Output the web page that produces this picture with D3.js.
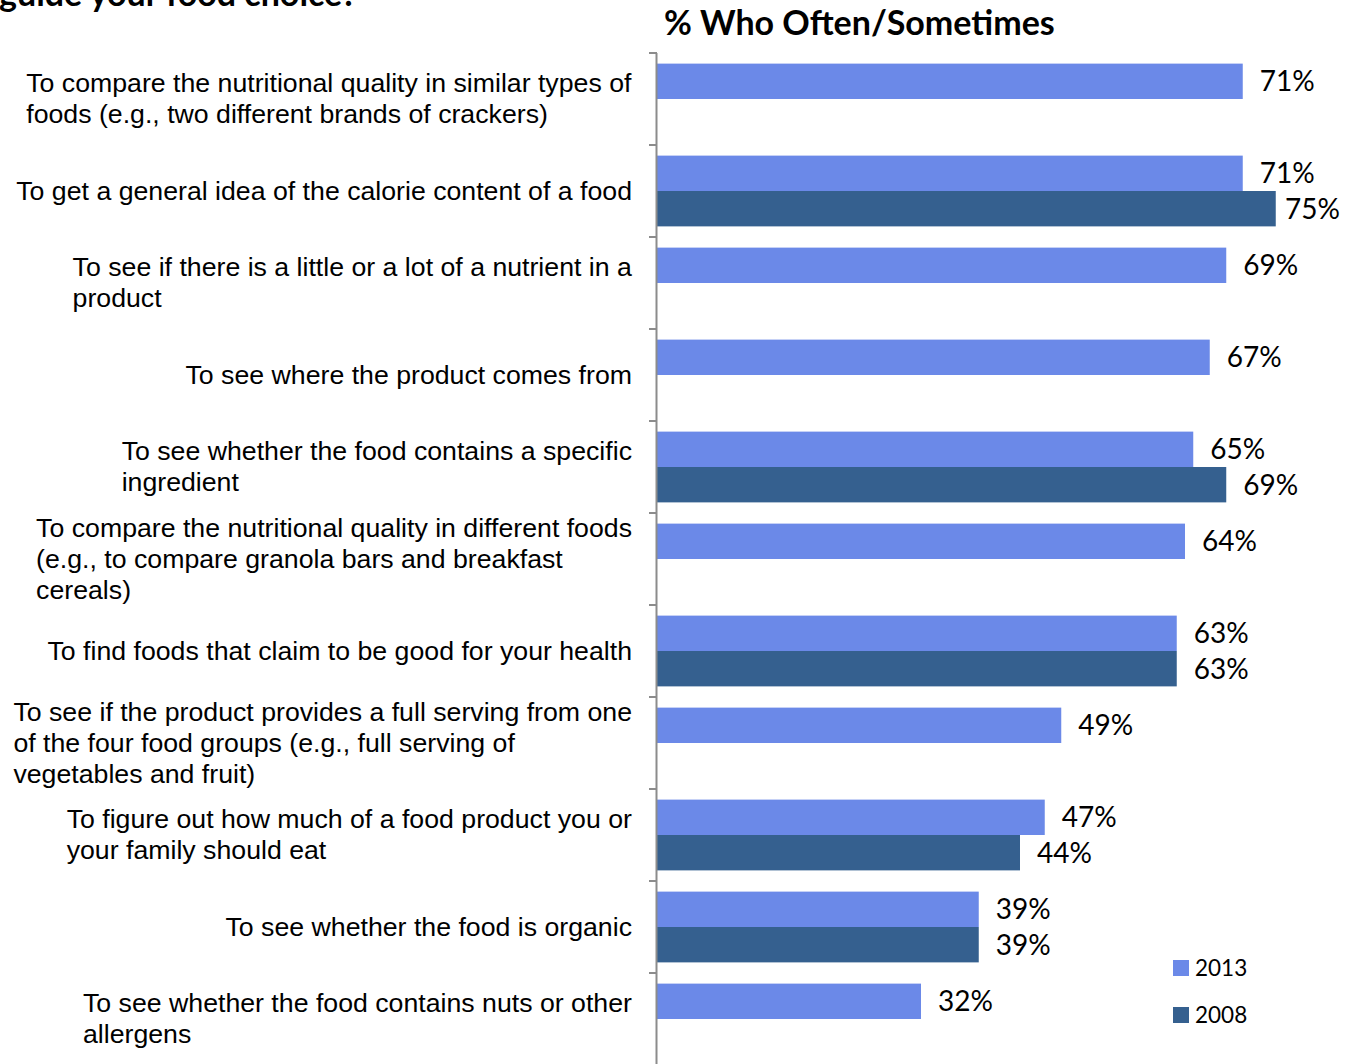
<!DOCTYPE html>
<html>
<head>
<meta charset="utf-8">
<script src="https://cdn.jsdelivr.net/npm/d3@7"></script>
<style>
  body { margin: 0; background: #fff; }
  svg { display: block; }
</style>
</head>
<body>
<div id="chart"></div>
<script>
// categories, one line array per label (wrapped as in the original)
var categories = [
  ["To compare the nutritional quality in similar types of", "foods (e.g., two different brands of crackers)"],
  ["To get a general idea of the calorie content of a food"],
  ["To see if there is a little or a lot of a nutrient in a", "product"],
  ["To see where the product comes from"],
  ["To see whether the food contains a specific", "ingredient"],
  ["To compare the nutritional quality in different foods", "(e.g., to compare granola bars and breakfast", "cereals)"],
  ["To find foods that claim to be good for your health"],
  ["To see if the product provides a full serving from one", "of the four food groups (e.g., full serving of", "vegetables and fruit)"],
  ["To figure out how much of a food product you or", "your family should eat"],
  ["To see whether the food is organic"],
  ["To see whether the food contains nuts or other", "allergens"]
];
var values2013 = [71, 71, 69, 67, 65, 64, 63, 49, 47, 39, 32];
var values2008 = [null, 75, null, null, 69, null, 63, null, 44, 39, null];
var seriesNames = ["2013", "2008"];
var seriesColors = ["#6b89e8", "#35608f"];

var width = 1356, height = 1064;
var svg = d3.select("#chart").append("svg")
    .attr("width", width)
    .attr("height", height);

var x0 = 657;
var x = d3.scaleLinear().domain([0, 100]).range([x0, x0 + 825]);

var y = d3.scaleBand()
    .domain(d3.range(categories.length))
    .range([53, 53 + 92 * categories.length])
    .paddingInner(0).paddingOuter(0);

var ySub = d3.scaleBand()
    .domain([0, 1])
    .range([0, y.bandwidth()])
    .paddingInner(0)
    .paddingOuter(0.3);

// cut-off question title at top
svg.append("text")
    .attr("x", -1)
    .attr("y", 6)
    .attr("font-family", "Lato, sans-serif")
    .attr("font-weight", "bold")
    .attr("font-size", "34px")
    .text("guide your food choice?");

svg.append("text")
    .attr("x", 664)
    .attr("y", 35)
    .attr("font-family", "Lato, sans-serif")
    .attr("font-weight", "bold")
    .attr("font-size", "34px")
    .text("% Who Often/Sometimes");

// bars
var rows = [];
categories.forEach(function(c, i) {
  rows.push({cat: i, s: 0, v: values2013[i]});
  if (values2008[i] != null) rows.push({cat: i, s: 1, v: values2008[i]});
});

svg.append("g").selectAll("rect")
  .data(rows)
  .enter().append("rect")
    .attr("x", x(0))
    .attr("y", function(d) { return y(d.cat) + ySub(d.s); })
    .attr("width", function(d) { return x(d.v) - x(0); })
    .attr("height", ySub.bandwidth())
    .attr("fill", function(d) { return seriesColors[d.s]; });

// value labels, kept inside the plot's right edge
var rightEdge = 1340;
svg.append("g").selectAll("text")
  .data(rows)
  .enter().append("text")
    .attr("y", function(d) { return y(d.cat) + ySub(d.s) + ySub.bandwidth() / 2; })
    .attr("dy", "0.36em")
    .attr("font-family", "Lato, sans-serif")
    .attr("font-size", "28px")
    .attr("fill", "#000")
    .text(function(d) { return d.v + "%"; })
    .attr("x", function(d) {
      var w = this.getComputedTextLength();
      return Math.min(x(d.v) + 17, rightEdge - w);
    });

// axis line and ticks
var axis = svg.append("g").attr("stroke", "#8c8c8c").attr("stroke-width", 2);
axis.append("line")
    .attr("x1", x(0) - 0.5).attr("x2", x(0) - 0.5)
    .attr("y1", y(0)).attr("y2", height);
axis.selectAll("line.tick")
  .data(d3.range(categories.length + 1))
  .enter().append("line")
    .attr("class", "tick")
    .attr("x1", x(0) - 8).attr("x2", x(0))
    .attr("y1", function(d) { return y(0) + d * y.step(); })
    .attr("y2", function(d) { return y(0) + d * y.step(); });

// category labels: block right aligned, lines left aligned
var lineH = 31;
var labelG = svg.append("g")
    .attr("font-family", "'Liberation Sans', Arial, sans-serif")
    .attr("font-size", "26.7px")
    .attr("fill", "#000");

categories.forEach(function(lines, i) {
  var cy = y(i) + y.bandwidth() / 2 - 1;
  var t = labelG.append("text");
  lines.forEach(function(l, k) {
    t.append("tspan")
      .attr("x", 0)
      .attr("y", cy + (k - (lines.length - 1) / 2) * lineH)
      .attr("dy", "0.36em")
      .text(l);
  });
  var w = t.node().getBBox().width;
  t.attr("transform", "translate(" + (632 - w) + ",0)");
});

// legend
var legend = svg.append("g").selectAll("g")
  .data(seriesNames)
  .enter().append("g")
    .attr("transform", function(d, i) { return "translate(1173," + (960 + i * 47) + ")"; });
legend.append("rect")
    .attr("width", 16).attr("height", 16)
    .attr("fill", function(d, i) { return seriesColors[i]; });
legend.append("text")
    .attr("x", 22).attr("y", 8).attr("dy", "0.36em")
    .attr("font-family", "Lato, sans-serif")
    .attr("font-size", "22.5px")
    .text(function(d) { return d; });
</script>
</body>
</html>
